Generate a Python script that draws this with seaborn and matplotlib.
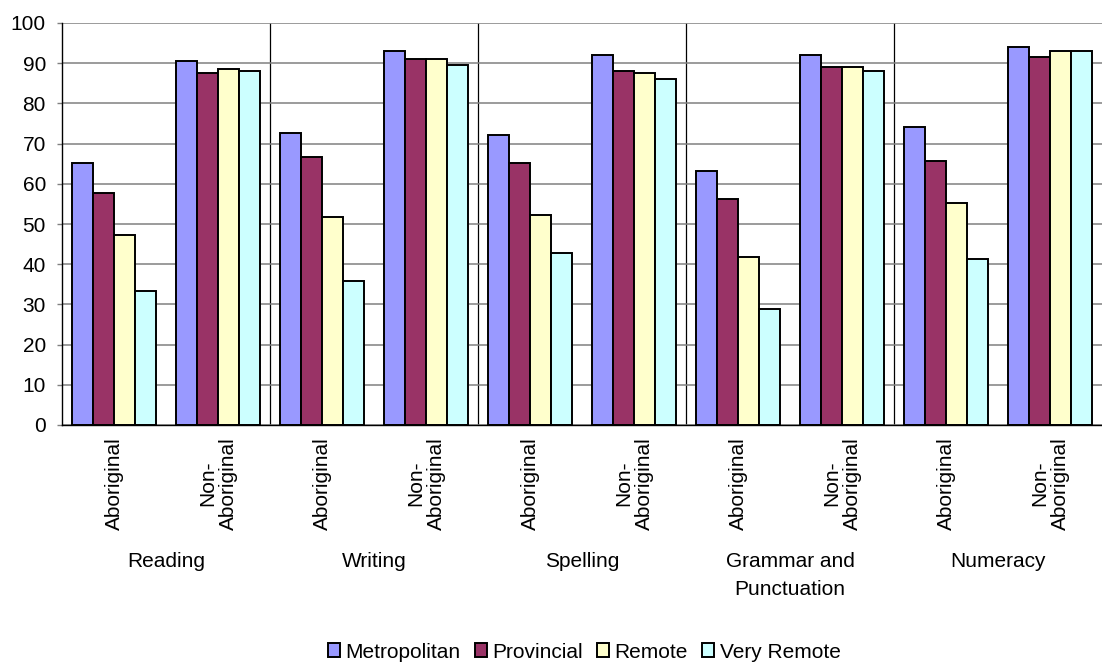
import matplotlib
matplotlib.use("Agg")
import matplotlib.pyplot as plt
import seaborn as sns
import pandas as pd

# Benchmark achievement (%) by subject, Indigenous status and geolocation
subjects = ["Reading", "Writing", "Spelling", "Grammar and\nPunctuation", "Numeracy"]
groups = ["Aboriginal", "Non-\nAboriginal"]
regions = ["Metropolitan", "Provincial", "Remote", "Very Remote"]

metropolitan = [65.1, 90.5, 72.6, 93.0, 72.1, 92.0, 63.1, 92.0, 74.1, 94.0]
provincial = [57.7, 87.6, 66.7, 91.0, 65.1, 88.0, 56.2, 89.0, 65.6, 91.5]
remote = [47.2, 88.5, 51.7, 91.0, 52.2, 87.5, 41.8, 89.0, 55.2, 93.0]
very_remote = [33.3, 88.1, 35.8, 89.6, 42.8, 86.0, 28.8, 88.0, 41.3, 93.0]

colors = ["#9999FF", "#993366", "#FFFFCC", "#CCFFFF"]

cells = [f"{s}|{g}" for s in subjects for g in groups]
series = [metropolitan, provincial, remote, very_remote]
rows = []
for region, vals in zip(regions, series):
    for cell, v in zip(cells, vals):
        rows.append({"cell": cell, "region": region, "value": v})
df = pd.DataFrame(rows)

sns.set_theme(style="white")
plt.rcParams["font.family"] = ["Liberation Sans", "DejaVu Sans"]
plt.rcParams["text.color"] = "black"
plt.rcParams["xtick.color"] = "black"
plt.rcParams["ytick.color"] = "black"

fig = plt.figure(figsize=(11.02, 6.66), dpi=100)
ax = fig.add_axes([62 / 1102, 1 - 425 / 666, 1040 / 1102, 402 / 666])

sns.barplot(data=df, x="cell", y="value", hue="region", order=cells,
            hue_order=regions, palette=colors, edgecolor="black",
            linewidth=1.4, width=0.81, gap=0, saturation=1, ax=ax,
            errorbar=None)

handles, labels = ax.get_legend_handles_labels()
if ax.get_legend() is not None:
    ax.get_legend().remove()

ax.set_xlim(-0.5, len(cells) - 0.5)
ax.set_ylim(0, 100)
ax.set_yticks(range(0, 101, 10))
ax.yaxis.grid(True, color="#808080", linewidth=1.1)
ax.set_axisbelow(True)
ax.set_xlabel("")
ax.set_ylabel("")

for side in ["top", "right"]:
    ax.spines[side].set_visible(False)
for side in ["left", "bottom"]:
    ax.spines[side].set_color("black")
    ax.spines[side].set_linewidth(1.0)

# separators between subjects
ax.vlines([1.5, 3.5, 5.5, 7.5], 0, 100, colors="black", linewidth=0.9, zorder=0.5)

ax.tick_params(axis="y", left=True, length=3.6, width=1.0, color="#808080",
               pad=8, labelsize=15, labelcolor="black")
ax.tick_params(axis="x", bottom=False, length=0, pad=8.5, labelcolor="black")
ax.set_xticks(range(len(cells)))
ax.set_xticklabels(groups * len(subjects), rotation=90, fontsize=15,
                   va="top", ha="center", linespacing=1.1)
for lbl in ax.get_xticklabels():
    lbl.set_multialignment("center")

for i, s in enumerate(subjects):
    ax.annotate(s, xy=(2 * i + 0.5, 0), xycoords=("data", "axes fraction"),
                xytext=(0, -127 * 0.72), textcoords="offset points",
                ha="center", va="top", fontsize=15, linespacing=1.6,
                multialignment="center", color="black")

fig.legend(handles, labels, loc="center", bbox_to_anchor=(584 / 1102, 1 - 652 / 666),
           ncol=4, frameon=False, fontsize=15, handlelength=0.58,
           handleheight=0.65, handletextpad=0.25, columnspacing=0.7,
           borderpad=0, borderaxespad=0, labelcolor="black")
for h in handles:
    h.set_edgecolor("black")
    h.set_linewidth(1.0)

fig.savefig("out.png", dpi=100)
